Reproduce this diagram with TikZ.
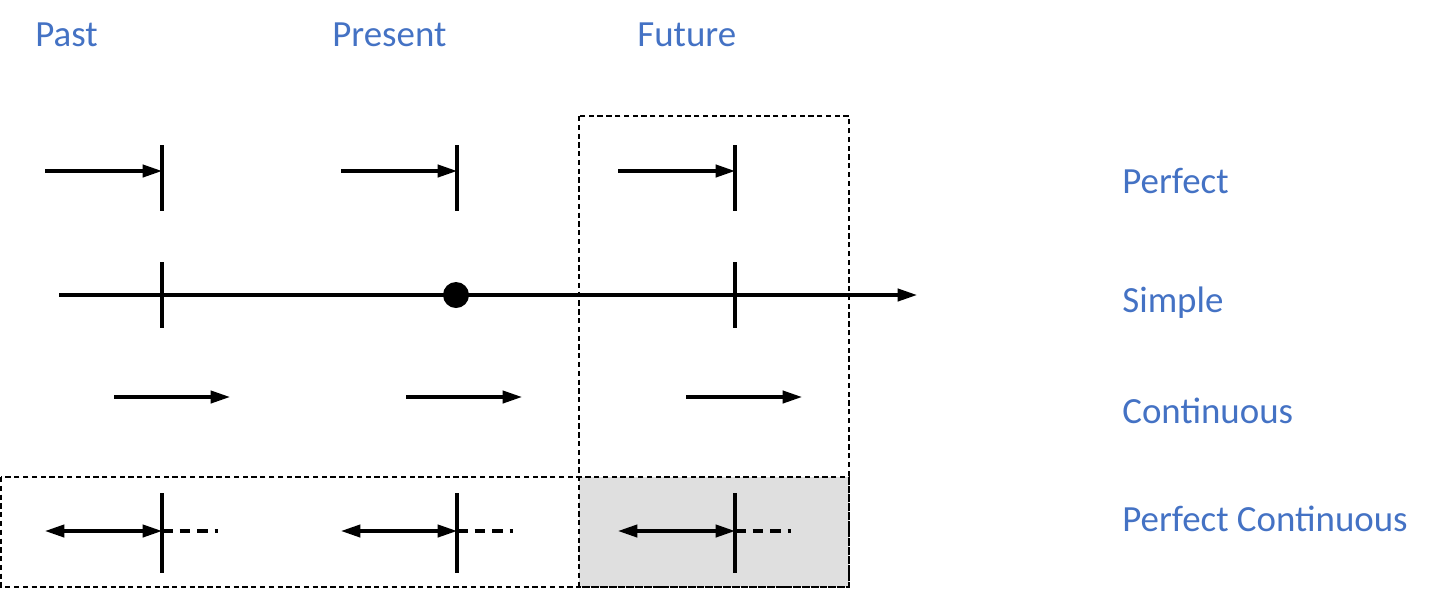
\documentclass[tikz,border=0pt]{standalone}
\usepackage{fontspec}
\setmainfont{Carlito}
\usetikzlibrary{arrows.meta}
\definecolor{lblue}{HTML}{4472C4}
\begin{document}
\begin{tikzpicture}[x=0.02cm,y=-0.02cm,
  lbl/.style={text=lblue,font=\fontsize{21pt}{24pt}\selectfont,inner sep=0pt},
  ln/.style={line width=1.8pt},
  arr/.style={ln,-{Triangle[length=11pt,width=7pt]}},
  darr/.style={ln,{Triangle[length=11pt,width=7pt]}-{Triangle[length=11pt,width=7pt]}},
  box/.style={line width=0.6pt,dash pattern=on 3pt off 2pt}]
\useasboundingbox (0,0) rectangle (1449,589);
\fill[gray!25] (579,477) rectangle (849,587);
\draw[box] (579,116) rectangle (849,587);
\draw[box] (1,477) rectangle (849,587);
\node[lbl,anchor=west] (past) at (35,35) {Past};
\node[lbl,anchor=west] (pres) at (332,35) {Present};
\node[lbl,anchor=west] (fut) at (637,35) {Future};
\node[lbl,anchor=west] (perf) at (1122,181) {Perfect};
\node[lbl,anchor=west] (simp) at (1122,303) {Simple};
\node[lbl,anchor=west] (cont) at (1122,411) {Continuous};
\node[lbl,anchor=west] (pc) at (1122,519) {Perfect Continuous};
\foreach \a/\b in {45/162,341/457,618/735}{
  \coordinate (s) at (\a,171); \coordinate (e) at (\b,171);
  \draw[arr] (s) -- (e);
  \draw[ln] (\b,145) -- (\b,211);
  \coordinate (s2) at (\a,531); \coordinate (e2) at (\b,531);
  \draw[darr] (s2) -- (e2);
  \draw[ln] (\b,493) -- (\b,573);
  \draw[ln,dash pattern=on 6pt off 4pt] (\b,531) -- ++(56,0);
}
\foreach \a in {114,406,686}{
  \draw[arr] (\a,397) -- ++(116,0);
}
\coordinate (l0) at (59,295); \coordinate (l1) at (917,295);
\draw[arr] (l0) -- (l1);
\draw[ln] (162,262) -- (162,328);
\draw[ln] (735,262) -- (735,328);
\fill (456,295) circle (13);
\end{tikzpicture}
\end{document}
